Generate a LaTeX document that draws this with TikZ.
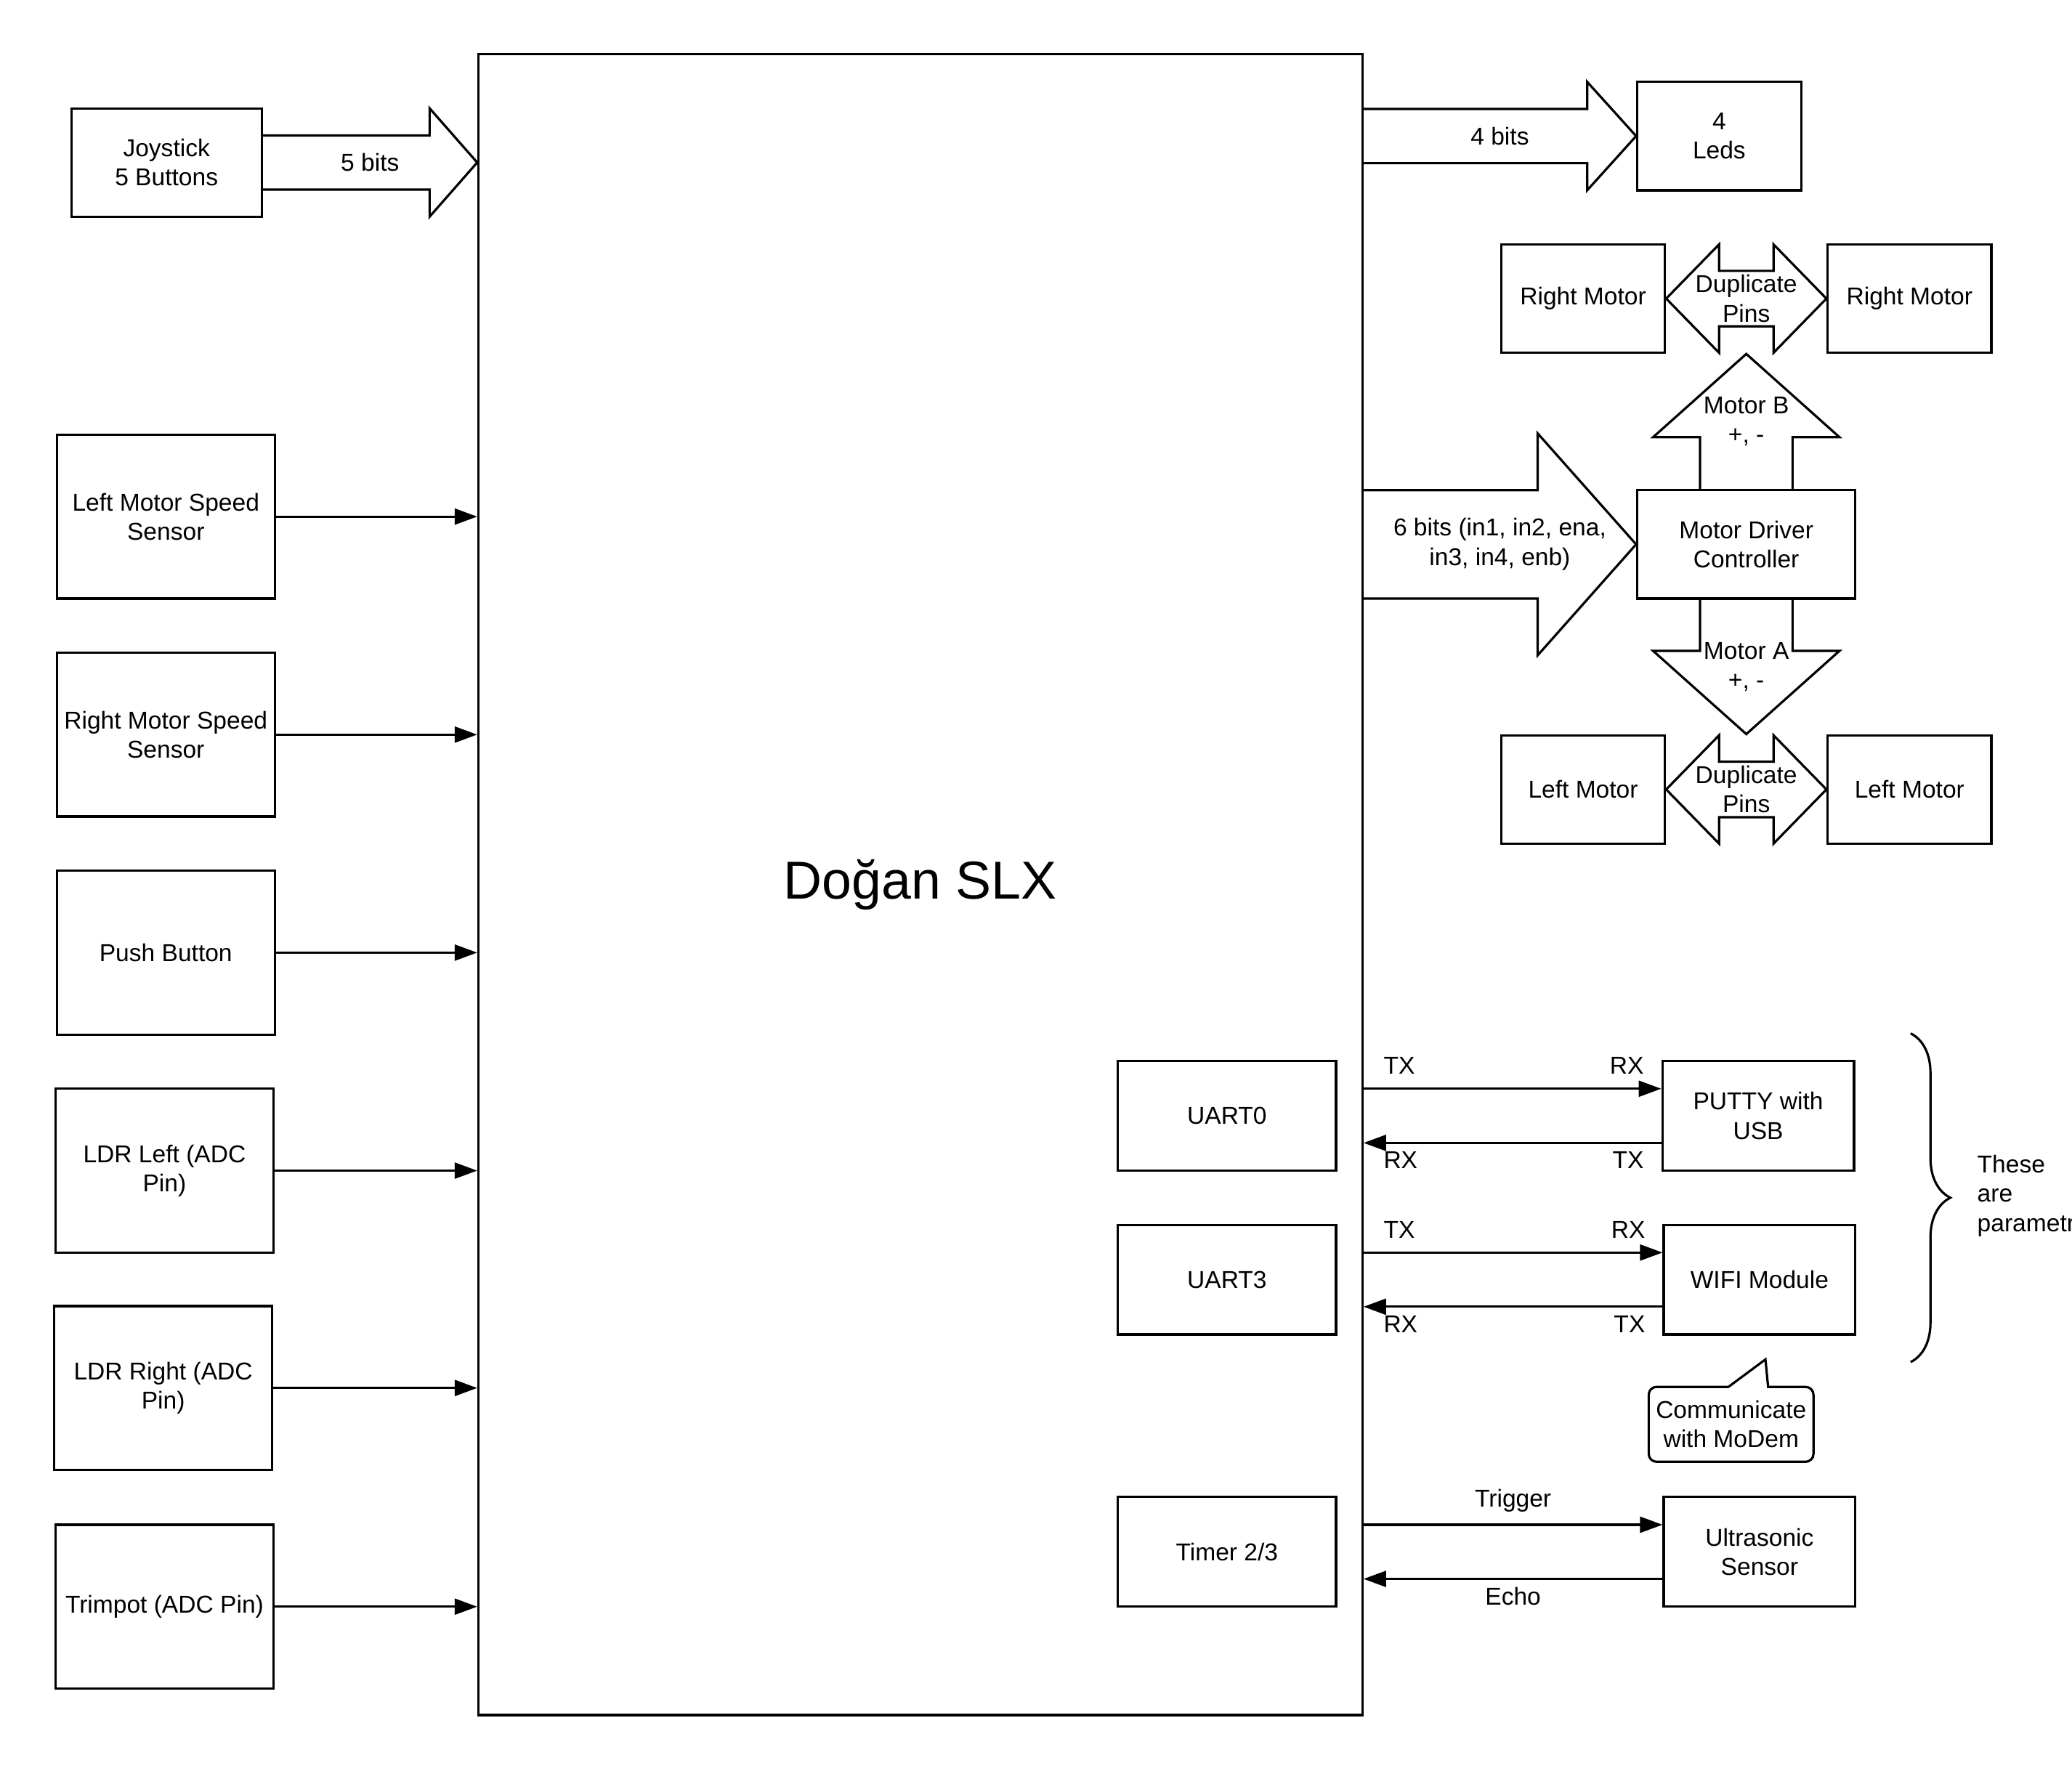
\documentclass[tikz,border=0pt]{standalone}
\usepackage{fontspec}
\setmainfont{Liberation Sans}
\usetikzlibrary{calc,arrows.meta,decorations.pathreplacing}

\begin{document}
\begin{tikzpicture}[
  every node/.style={font=\fontsize{10.5}{12.6}\selectfont, align=center},
  box/.style={draw, line width=1pt, inner sep=2pt},
  sensor/.style={box, minimum width=3.3cm, minimum height=2.48cm},
  small/.style={box, minimum width=2.48cm, minimum height=1.64cm},
  port/.style={box, minimum width=3.3cm, minimum height=1.66cm},
  dev/.style={box, minimum width=2.9cm, minimum height=1.66cm},
  sig/.style={line width=1pt, -{Triangle[length=3.4mm,width=2.4mm]}},
  blk/.style={line width=1pt, line join=miter}
]
\useasboundingbox (0,0) rectangle (31.36,-26.8);

% Draw the microcontroller
\node[box, minimum width=13.38cm, minimum height=25.14cm,
  font=\fontsize{23}{27}\selectfont] (mcu) at (13.93,-13.39) {Doğan SLX};

% Input blocks
\node[box, minimum width=2.88cm, minimum height=1.64cm] (joy) at (2.52,-2.46) {Joystick\\5 Buttons};
\node[sensor] (lms) at (2.51,-7.82) {Left Motor Speed\\Sensor};
\node[sensor] (rms) at (2.51,-11.12) {Right Motor Speed\\Sensor};
\node[sensor] (pb) at (2.51,-14.42) {Push Button};
\node[sensor] (ldrl) at (2.49,-17.72) {LDR Left (ADC\\Pin)};
\node[sensor] (ldrr) at (2.47,-21.01) {LDR Right (ADC\\Pin)};
\node[sensor] (trim) at (2.49,-24.32) {Trimpot (ADC Pin)};
\foreach \s in {lms,rms,pb,ldrl,ldrr,trim}
  \draw[sig] (\s.east) -- (\s.east -| mcu.west);

% 5 bits bus
\coordinate (t5) at (joy.east -| mcu.west);
\draw[blk] ([yshift=4.1mm]joy.east) -- ([shift={(-0.72,0.41)}]t5) -- ([shift={(-0.72,0.82)}]t5) -- (t5)
  -- ([shift={(-0.72,-0.82)}]t5) -- ([shift={(-0.72,-0.41)}]t5) -- ([yshift=-4.1mm]joy.east);
\node (b5) at ($(joy.east)!0.5!(t5)$) {5 bits};

% Leds
\node[small] (leds) at (26.02,-2.06) {4\\Leds};
\coordinate (s4) at (leds.west -| mcu.east);
\draw[blk] ([yshift=4.1mm]s4) -- ([shift={(-0.74,0.41)}]leds.west) -- ([shift={(-0.74,0.82)}]leds.west) -- (leds.west)
  -- ([shift={(-0.74,-0.82)}]leds.west) -- ([shift={(-0.74,-0.41)}]leds.west) -- ([yshift=-4.1mm]s4);
\node (b4) at ($(s4)!0.5!(leds.west)$) {4 bits};

% Motor driver and motors
\node[box, minimum width=3.3cm, minimum height=1.64cm] (mdc) at (26.43,-8.24) {Motor Driver\\Controller};
\node[small] (rm1) at (23.96,-4.52) {Right Motor};
\node[small] (rm2) at (28.9,-4.52) {Right Motor};
\node[small] (lm1) at (23.96,-11.95) {Left Motor};
\node[small] (lm2) at (28.9,-11.95) {Left Motor};

\coordinate (s6) at (mdc.west -| mcu.east);
\draw[blk] ([yshift=8.2mm]s6) -- ([shift={(-1.49,0.82)}]mdc.west) -- ([shift={(-1.49,1.68)}]mdc.west) -- (mdc.west)
  -- ([shift={(-1.49,-1.68)}]mdc.west) -- ([shift={(-1.49,-0.82)}]mdc.west) -- ([yshift=-8.2mm]s6);
\node (b6) at ($(s6)!0.5!(mdc.west)$) {6 bits (in1, in2, ena,\\in3, in4, enb)};

% Motor B up
\coordinate (tB) at (mdc.north |- rm1.south);
\draw[blk] ([xshift=-7mm]mdc.north) -- ([shift={(-0.7,-1.26)}]tB) -- ([shift={(-1.41,-1.26)}]tB) -- (tB)
  -- ([shift={(1.41,-1.26)}]tB) -- ([shift={(0.7,-1.26)}]tB) -- ([xshift=7mm]mdc.north);
\node (bB) at ($(mdc.north)!0.5!(tB)$) {Motor B\\+, -};

% Motor A down
\coordinate (tA) at (mdc.south |- lm1.north);
\draw[blk] ([xshift=-7mm]mdc.south) -- ([shift={(-0.7,1.26)}]tA) -- ([shift={(-1.41,1.26)}]tA) -- (tA)
  -- ([shift={(1.41,1.26)}]tA) -- ([shift={(0.7,1.26)}]tA) -- ([xshift=7mm]mdc.south);
\node (bA) at ($(mdc.south)!0.5!(tA)$) {Motor A\\+, -};

% Duplicate pins
\foreach \a/\b in {rm1/rm2, lm1/lm2} {
  \draw[blk] (\a.east) -- ([shift={(0.8,0.82)}]\a.east) -- ([shift={(0.8,0.42)}]\a.east)
    -- ([shift={(-0.8,0.42)}]\b.west) -- ([shift={(-0.8,0.82)}]\b.west) -- (\b.west)
    -- ([shift={(-0.8,-0.82)}]\b.west) -- ([shift={(-0.8,-0.42)}]\b.west)
    -- ([shift={(0.8,-0.42)}]\a.east) -- ([shift={(0.8,-0.82)}]\a.east) -- cycle;
  \node (dp\a) at ($(\a.east)!0.5!(\b.west)$) {Duplicate\\Pins};
}

% Serial ports
\node[port] (u0) at (18.57,-16.89) {UART0};
\node[port] (u3) at (18.57,-19.37) {UART3};
\node[port] (tm) at (18.57,-23.49) {Timer 2/3};
\node[dev] (pty) at (26.61,-16.89) {PUTTY with\\USB};
\node[dev] (wifi) at (26.63,-19.37) {WIFI Module};
\node[dev] (us) at (26.63,-23.49) {Ultrasonic\\Sensor};

\foreach \d in {pty,wifi} {
  \coordinate (in\d) at ([yshift=4.1mm]\d.west);
  \coordinate (out\d) at ([yshift=-4.1mm]\d.west);
  \draw[sig] (in\d -| mcu.east) -- (in\d);
  \draw[sig] (out\d) -- (out\d -| mcu.east);
  \path (in\d -| mcu.east) ++(0.54,0.35) node (txa\d) {TX};
  \path (in\d) ++(-0.52,0.35) node (rxa\d) {RX};
  \path (out\d -| mcu.east) ++(0.56,-0.26) node (rxb\d) {RX};
  \path (out\d) ++(-0.5,-0.26) node (txb\d) {TX};
}

% Ultrasonic
\coordinate (trg) at ([yshift=4.1mm]us.west);
\coordinate (ech) at ([yshift=-4.1mm]us.west);
\draw[sig] (trg -| mcu.east) -- (trg);
\draw[sig] (ech) -- (ech -| mcu.east);
\path ($(trg -| mcu.east)!0.5!(trg)$) ++(0,0.36) node (ltrg) {Trigger};
\path ($(ech -| mcu.east)!0.5!(ech)$) ++(0,-0.26) node (lech) {Echo};

% Callout
\node[minimum width=2.48cm, minimum height=1.12cm, inner sep=2pt] (modem) at (26.2,-21.56) {Communicate\\with MoDem};
\coordinate (ptr) at ([shift={(0.09,-0.36)}]wifi.south);
\draw[line width=1pt] (ptr) -- ([xshift=-0.4mm]modem.north) [rounded corners=1.2mm] -- (modem.north west)
  -- (modem.south west) -- (modem.south east) -- (modem.north east) [sharp corners] -- ([xshift=5.6mm]modem.north) -- cycle;

% Brace
\coordinate (brA) at ([shift={(0.84,0.4)}]pty.north east);
\coordinate (brB) at ([shift={(0.82,-0.4)}]wifi.south east);
\draw[line width=1pt, decorate, decoration={brace, amplitude=6mm}] (brA) -- (brB);
\node[anchor=west, align=left, inner sep=0pt] (note) at (29.92,-18.1) {These\\are\\parametric};
\end{tikzpicture}
\end{document}
